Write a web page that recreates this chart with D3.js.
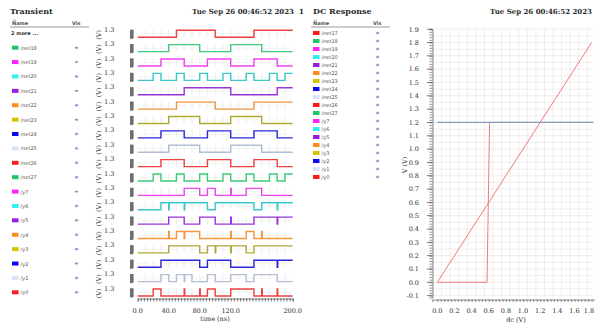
<!DOCTYPE html>
<html>
<head>
<style>
  body { margin: 0; background: #fff; }
  svg text { font-family: "DejaVu Serif", "Liberation Serif", serif; fill: #2a2a2a; }
  .leg text { font-family: "DejaVu Sans", sans-serif; fill: #555; }
</style>
</head>
<body>
<script src="https://d3js.org/d3.v7.min.js"></script>
<svg id="chart" width="595" height="324"></svg>
<script>
// signal names (plot order) and colours
var sigNames = ["/net17","/net18","/net19","/net20","/net21","/net22","/net23","/net24","/net25",
  "/net26","/net27","/y7","/y6","/y5","/y4","/y3","/y2","/y1","/y0"];
var swatchColors = ["#ff1a1a","#1fc46a","#ff22ff","#33f0f0","#9a1ee0","#ff8c1a","#d4c400","#0a0af0","#d8e4f8",
  "#ff1a1a","#1fc46a","#ff22ff","#33f0f0","#9a1ee0","#ff8c1a","#d4c400","#0a0af0","#d8e4f8","#ff1a1a"];
var waveColors = ["#f04040","#3ccc78","#ee44ee","#3cc8c8","#9933dd","#f49540","#b0a836","#2828dc","#b4bed2",
  "#f04040","#3ccc78","#ee44ee","#3cc8c8","#9933dd","#f49540","#b0a836","#2828dc","#b4bed2","#f04040"];

// transient: time intervals (ns) where each signal is high
var net17 = [[50,100],[150,200]];
var net18 = [[40,80],[120,160]];
var net19 = [[30,60],[90,120],[150,180]];
var net20 = [[20,30],[50,60],[80,90],[110,120],[140,150],[170,180],[190,200]];
var net21 = [[60,120],[180,200]];
var net22 = [[50,100],[150,200]];
var net23 = [[40,80],[120,160]];
var net24 = [[30,60],[90,120],[150,180]];
var net25 = [[40,80],[120,160]];
var net26 = [[30,60],[90,120],[150,180]];
var net27 = [[20,30],[50,60],[80,90],[110,120],[140,150],[170,180],[190,200]];
var y7 = [[60,80],[90,100],[120,120.7],[140,160]];
var y6 = [[30,40],[40.7,60],[60.7,90],[100,150],[160,180],[180.7,200]];
var y5 = [[40,60],[80,100],[120,120.7],[150,180],[180.7,200]];
var y4 = [[40,40.7],[50,60],[60.7,80],[120,120.7],[140,150],[160,160.7]];
var y3 = [[40,80],[90,100],[100.7,120],[120.7,140],[150,200]];
var y2 = [[30,80],[90,120],[150,180],[180.7,200]];
var y1 = [[30,40],[50,60],[60.7,70],[90,100],[120,140],[150,180]];
var y0 = [[20,30],[60,60.7],[80,80.7],[90,100],[120,150],[160,160.7],[180,180.7]];
var tranData = [net17,net18,net19,net20,net21,net22,net23,net24,net25,net26,net27,y7,y6,y5,y4,y3,y2,y1,y0];
var vHigh = 1.2;
var timeLabels = [0, 40, 80, 120, 200];

// DC response
var dcSweep = [0, 1.8];          // diagonal follows the sweep
var dcStepX = [0, 0.58, 0.61, 1.82];
var dcStepY = [0, 0, 1.2, 1.2];
var dcFlat = [[0, 1.2], [1.82, 1.2]];
var dcYLabels = d3.range(-0.1, 1.91, 0.1);
var dcXLabels = d3.range(0, 1.81, 0.2);

var svg = d3.select("#chart");

// ---------- headers ----------
svg.append("text").attr("x", 10).attr("y", 14).attr("font-size", 8).attr("font-weight", 600).text("Transient");
svg.append("text").attr("x", 313).attr("y", 14).attr("font-size", 8).attr("font-weight", 600).text("DC Response");
svg.append("text").attr("x", 294).attr("y", 14).attr("text-anchor", "end").attr("font-size", 7)
  .attr("font-weight", 600).text("Tue Sep 26 00:46:52 2023");
svg.append("text").attr("x", 299).attr("y", 14).attr("font-size", 7).attr("font-weight", 600).text("1");
svg.append("text").attr("x", 592).attr("y", 14).attr("text-anchor", "end").attr("font-size", 7)
  .attr("font-weight", 600).text("Tue Sep 26 00:46:52 2023");

// ---------- legends ----------
function legend(x0, rows, y0, step, extraTop) {
  var g = svg.append("g").attr("class", "leg");
  g.append("line").attr("x1", x0 + 1).attr("x2", x0 + 4).attr("y1", 20).attr("y2", 20).attr("stroke", "#777").attr("stroke-width", 0.6);
  g.append("text").attr("x", x0).attr("y", 25).attr("font-size", 5).attr("font-weight", "bold").text("Name");
  g.append("text").attr("x", x0 + 60).attr("y", 25).attr("font-size", 5).attr("font-weight", "bold").text("Vis");
  g.append("line").attr("x1", x0 - 2).attr("x2", x0 + 77).attr("y1", 27).attr("y2", 27)
    .attr("stroke", "#999").attr("stroke-width", 1);
  var start = 0;
  if (extraTop) {
    g.append("text").attr("x", x0 - 1).attr("y", y0 + 2).attr("font-size", 5).attr("font-weight", "bold")
      .style("fill", "#333").text("2 more ...");
    start = 1;
  }
  var r = g.selectAll(".row").data(rows).enter().append("g")
    .attr("transform", function(d, i) { return "translate(0," + (y0 + (i + start) * step) + ")"; });
  r.append("rect").attr("x", x0).attr("y", -2).attr("width", 6.5).attr("height", 4)
    .attr("fill", function(d) { return swatchColors[sigNames.indexOf(d)]; });
  r.append("text").attr("x", x0 + 8.5).attr("y", 2).attr("font-size", 5).text(function(d) { return d; });
  r.append("line").attr("x1", x0 + 62.5).attr("x2", x0 + 66.5).attr("y1", 0).attr("y2", 0)
    .attr("stroke", "#8fa4cc").attr("stroke-width", 0.6);
  r.append("circle").attr("cx", x0 + 64.5).attr("cy", 0).attr("r", 1.2).attr("fill", "#7c94c4");
}
legend(12, sigNames.slice(1), 33.3, 14.39, true);
legend(313, sigNames, 33, 8, false);

// ---------- transient strips ----------
var x = d3.scaleLinear().domain([0, 200]).range([137.7, 292.7]);
var stripStep = 14.37;

tranData.forEach(function(iv, i) {
  var off = i * stripStep;
  var y = d3.scaleLinear().domain([0, 1.3]).range([37.3 + off, 29.7 + off]);
  var g = svg.append("g");

  // faint grid
  g.selectAll(".vg").data(d3.range(10, 200, 10)).enter().append("line")
    .attr("x1", x).attr("x2", x).attr("y1", y(1.3)).attr("y2", y(0))
    .attr("stroke", "#e2e2e2").attr("stroke-width", 0.6);
  g.append("line").attr("x1", x(0)).attr("x2", x(200)).attr("y1", y(0.6)).attr("y2", y(0.6))
    .attr("stroke", "#ececec").attr("stroke-width", 0.6);

  // compressed y axis block
  var ax = g.append("g").attr("transform", "translate(133,0)")
    .call(d3.axisLeft(y).tickValues(d3.range(-0.1, 1.31, 0.05)).tickSize(3).tickFormat(""));
  ax.selectAll("line, path").attr("stroke", "#666").attr("stroke-width", 0.6);

  // labels
  svg.append("text").attr("x", 104).attr("y", y(1.3) + 2.2).attr("font-size", 6.5).text("1.3");
  svg.append("text").attr("transform", "translate(101," + (y(0.6) + 1) + ") rotate(-90)")
    .attr("text-anchor", "middle").attr("font-size", 6.5).text("(V)");

  // waveform
  var pts = [[0, 0]];
  iv.forEach(function(p) {
    pts.push([p[0], 0], [p[0], vHigh], [p[1], vHigh]);
    if (p[1] < 200) pts.push([p[1], 0]);
  });
  if (iv[iv.length - 1][1] < 200) pts.push([200, 0]);
  g.append("path").datum(pts)
    .attr("d", d3.line().x(function(d) { return x(d[0]); }).y(function(d) { return y(d[1]); }))
    .attr("fill", "none").attr("stroke", waveColors[i]).attr("stroke-width", 1.4);
});

// time axis
var tAxis = svg.append("g").attr("transform", "translate(0,298.5)")
  .call(d3.axisBottom(x).tickValues(d3.range(0, 201, 4)).tickSize(3).tickFormat(""));
tAxis.selectAll("line, path").attr("stroke", "#444").attr("stroke-width", 0.7);
svg.selectAll(".tl").data(timeLabels).enter().append("text")
  .attr("x", x).attr("y", 313).attr("text-anchor", "middle").attr("font-size", 6.5)
  .text(function(d) { return d.toFixed(1); });
svg.append("text").attr("x", 215).attr("y", 321).attr("text-anchor", "middle").attr("font-size", 6.5).text("time (ns)");

// ---------- DC plot ----------
var dx = d3.scaleLinear().domain([0, 1.8]).range([437.3, 591.6]);
var dy = d3.scaleLinear().domain([0, 1.9]).range([282.3, 29.2]);
var gridX = d3.range(-0.05, 1.9, 0.1);
var gridY = d3.range(-0.1, 1.91, 0.05);
var dc = svg.append("g");
dc.selectAll(".gx").data(gridX).enter().append("line")
  .attr("x1", dx).attr("x2", dx).attr("y1", dy(1.9)).attr("y2", dy(-0.11))
  .attr("stroke", "#e4e4e4").attr("stroke-width", 0.6);
dc.selectAll(".gy").data(gridY).enter().append("line")
  .attr("x1", 433).attr("x2", 593).attr("y1", dy).attr("y2", dy)
  .attr("stroke", "#e4e4e4").attr("stroke-width", 0.6);

var yAx = dc.append("g").attr("transform", "translate(432.5,0)")
  .call(d3.axisLeft(dy.copy().domain([-0.115, 1.9]).range([dy(-0.115), dy(1.9)]))
    .tickValues(d3.range(-0.1, 1.905, 0.02)).tickSize(3).tickFormat(""));
yAx.selectAll("line, path").attr("stroke", "#444").attr("stroke-width", 0.6);
dc.selectAll(".ymaj").data(dcYLabels).enter().append("line")
  .attr("x1", 427).attr("x2", 432.5).attr("y1", dy).attr("y2", dy).attr("stroke", "#444").attr("stroke-width", 0.7);
dc.selectAll(".yl").data(dcYLabels).enter().append("text")
  .attr("x", 419).attr("y", function(d) { return dy(d) + 2.3; }).attr("text-anchor", "end").attr("font-size", 6.5)
  .text(function(d) { return d.toFixed(1); });

var xAx = dc.append("g").attr("transform", "translate(0,299.5)")
  .call(d3.axisBottom(dx.copy().domain([-0.06, 1.86]).range([dx(-0.06), dx(1.86)]))
    .tickValues(d3.range(0, 1.86, 0.04)).tickSize(2.5).tickFormat(""));
xAx.selectAll("line, path").attr("stroke", "#444").attr("stroke-width", 0.6);
dc.selectAll(".xl").data(dcXLabels).enter().append("text")
  .attr("x", function(d) { return Math.min(dx(d), 589); }).attr("y", 312.5).attr("text-anchor", "middle").attr("font-size", 6.5)
  .text(function(d) { return d.toFixed(1); });
dc.append("text").attr("x", 516).attr("y", 322).attr("text-anchor", "middle").attr("font-size", 6.5).text("dc (V)");
dc.append("text").attr("transform", "translate(407,165) rotate(-90)").attr("text-anchor", "middle")
  .attr("font-size", 6.5).text("V (V)");

var dline = d3.line().x(function(d) { return dx(d[0]); }).y(function(d) { return dy(d[1]); });
dc.append("path").datum(dcStepX.map(function(v, i) { return [v, dcStepY[i]]; }))
  .attr("d", dline).attr("fill", "none").attr("stroke", "#f07a7a").attr("stroke-width", 1);
dc.append("path").datum(dcFlat).attr("d", dline).attr("fill", "none")
  .attr("stroke", "#7f9db6").attr("stroke-width", 1.3);
dc.append("path").datum(dcSweep.map(function(v) { return [v, v]; }))
  .attr("d", dline).attr("fill", "none").attr("stroke", "#f07a7a").attr("stroke-width", 1);
</script>
</body>
</html>
